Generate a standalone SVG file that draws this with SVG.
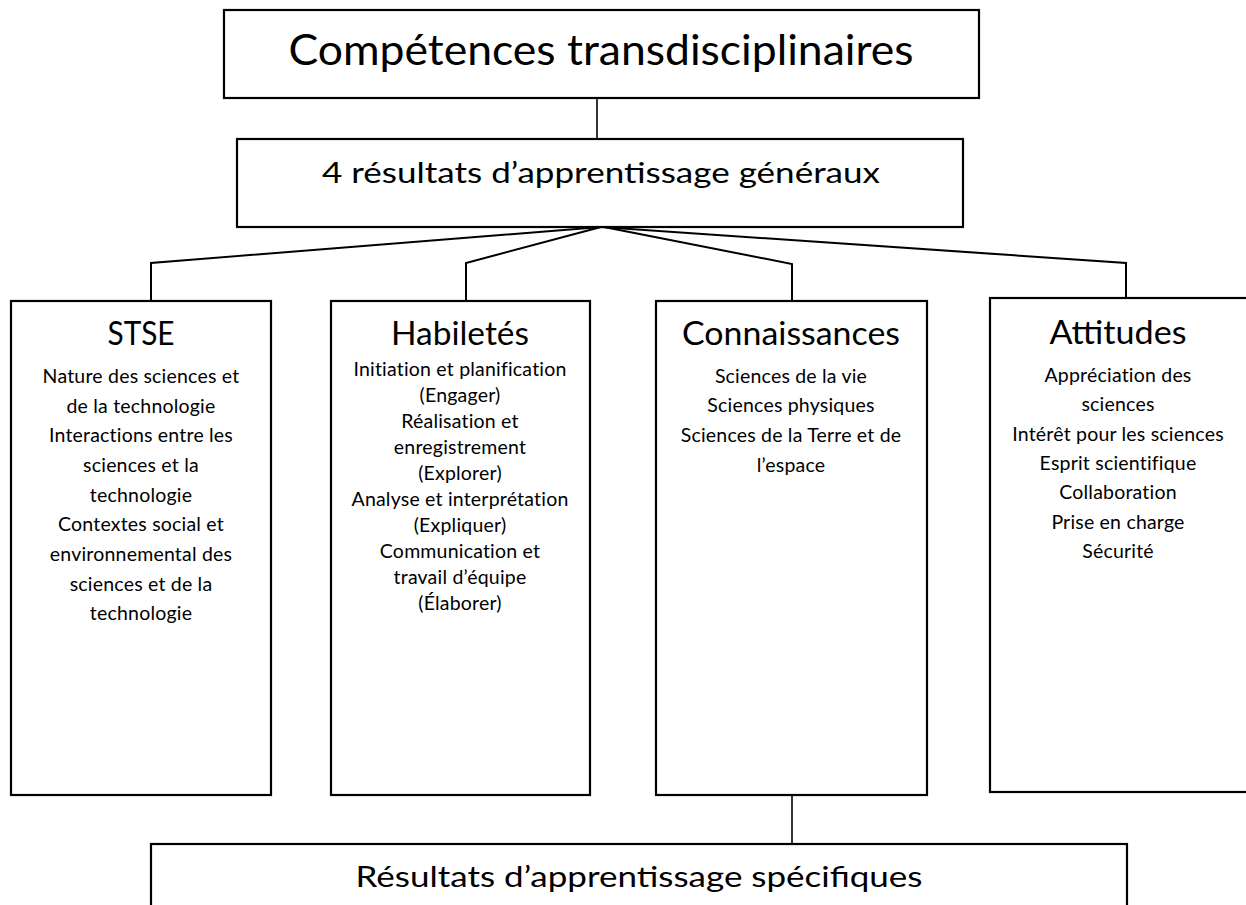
<svg xmlns="http://www.w3.org/2000/svg" width="1246" height="905" viewBox="0 0 1246 905">
<style>
.box{fill:#fff;stroke:#000;stroke-width:2.2}
.con{fill:none;stroke:#000;stroke-width:2}
.vcon{fill:none;stroke:#000;stroke-width:1.6}
text{font-family:Lato,"Liberation Sans",sans-serif;fill:#000;text-anchor:middle}
.h1{font-size:42px}
.h2{font-size:28px}
.h3{font-size:32px}
.b{font-size:19.5px;letter-spacing:0.2px}
</style>
<rect width="1246" height="905" fill="#fff"/>
<g id="connectors">
<line class="vcon" x1="597" y1="98" x2="597" y2="139"/>
<polyline class="con" points="601,227 151,263 151,301"/>
<polyline class="con" points="601,227 466,263 466,301"/>
<polyline class="con" points="604,227 792,264 792,301"/>
<polyline class="con" points="601,227 1126,263 1126,298"/>
<line class="vcon" x1="792" y1="795" x2="792" y2="844"/>
</g>
<g id="competences">
<rect class="box" x="224" y="10" width="755" height="88"/>
<text class="h1" x="601" y="65" textLength="625" lengthAdjust="spacingAndGlyphs">Compétences transdisciplinaires</text>
</g>
<g id="resultats-generaux">
<rect class="box" x="237" y="139" width="726" height="88"/>
<text class="h2" x="601" y="183" textLength="558" lengthAdjust="spacingAndGlyphs">4 résultats d’apprentissage généraux</text>
</g>
<g id="stse">
<rect class="box" x="11" y="301" width="260" height="494"/>
<text class="h3" x="141" y="345" textLength="67" lengthAdjust="spacingAndGlyphs">STSE</text>
<text class="b" x="141" y="383">Nature des sciences et</text>
<text class="b" x="141" y="413">de la technologie</text>
<text class="b" x="141" y="442">Interactions entre les</text>
<text class="b" x="141" y="472">sciences et la</text>
<text class="b" x="141" y="502">technologie</text>
<text class="b" x="141" y="531">Contextes social et</text>
<text class="b" x="141" y="561">environnemental des</text>
<text class="b" x="141" y="591">sciences et de la</text>
<text class="b" x="141" y="620">technologie</text>
</g>
<g id="habiletes">
<rect class="box" x="331" y="301" width="259" height="494"/>
<text class="h3" x="460" y="345" textLength="138" lengthAdjust="spacingAndGlyphs">Habiletés</text>
<text class="b" x="460" y="376">Initiation et planification</text>
<text class="b" x="460" y="402">(Engager)</text>
<text class="b" x="460" y="428">Réalisation et</text>
<text class="b" x="460" y="454">enregistrement</text>
<text class="b" x="460" y="480">(Explorer)</text>
<text class="b" x="460" y="506">Analyse et interprétation</text>
<text class="b" x="460" y="532">(Expliquer)</text>
<text class="b" x="460" y="558">Communication et</text>
<text class="b" x="460" y="584">travail d’équipe</text>
<text class="b" x="460" y="610">(Élaborer)</text>
</g>
<g id="connaissances">
<rect class="box" x="656" y="301" width="271" height="494"/>
<text class="h3" x="791" y="345" textLength="218" lengthAdjust="spacingAndGlyphs">Connaissances</text>
<text class="b" x="791" y="383">Sciences de la vie</text>
<text class="b" x="791" y="412">Sciences physiques</text>
<text class="b" x="791" y="442">Sciences de la Terre et de</text>
<text class="b" x="791" y="472">l’espace</text>
</g>
<g id="attitudes">
<rect class="box" x="990" y="298" width="260" height="494"/>
<text class="h3" x="1118" y="344" textLength="137" lengthAdjust="spacingAndGlyphs">Attitudes</text>
<text class="b" x="1118" y="382">Appréciation des</text>
<text class="b" x="1118" y="411">sciences</text>
<text class="b" x="1118" y="441">Intérêt pour les sciences</text>
<text class="b" x="1118" y="470">Esprit scientifique</text>
<text class="b" x="1118" y="499">Collaboration</text>
<text class="b" x="1118" y="529">Prise en charge</text>
<text class="b" x="1118" y="558">Sécurité</text>
</g>
<g id="resultats-specifiques">
<rect class="box" x="151" y="844" width="976" height="80"/>
<text class="h2" x="639" y="887" textLength="567" lengthAdjust="spacingAndGlyphs">Résultats d’apprentissage spécifiques</text>
</g>
</svg>
